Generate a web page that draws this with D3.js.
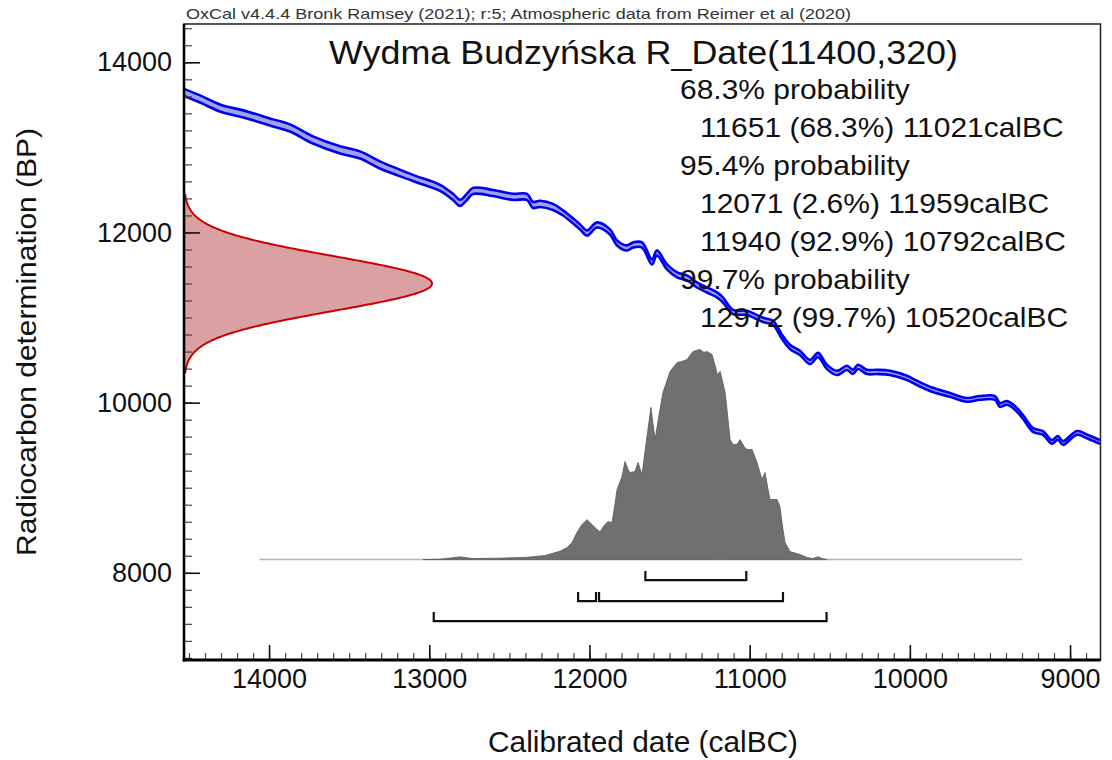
<!DOCTYPE html>
<html>
<head>
<meta charset="utf-8">
<script src="https://cdn.jsdelivr.net/npm/d3@7"></script>
<style>
  html, body { margin: 0; padding: 0; background: #fff; }
  svg { display: block; }
  text { font-family: "Liberation Sans", Arial, sans-serif; }
</style>
</head>
<body>
<svg id="chart" width="1112" height="760"></svg>
<script>
// ---- Data -----------------------------------------------------------
const sampleName = "Wydma Budzyńska";
const dateBP = 11400;
const dateErr = 320;

// IntCal20 calibration curve (calBC, BP, 1-sigma)
const curveCal = [14531,14431,14306,14138,13975,13869,13726,13557,13432,13308,13102,12933,12852,12808,12765,12727,12602,12477,12390,12353,12309,12228,12165,12059,12015,11953,11872,11828,11766,11728,11672,11610,11579,11516,11453,11391,11329,11266,11204,11167,11104,11017,10917,10854,10798,10748,10686,10623,10573,10517,10455,10393,10355,10324,10268,10205,10124,10018,9956,9856,9750,9643,9562,9469,9438,9394,9344,9294,9232,9169,9113,9076,9044,8957,8888,8813];
const curveBP = [13645,13569,13463,13381,13287,13228,13087,12970,12911,12793,12641,12524,12418,12348,12418,12488,12464,12418,12418,12324,12336,12300,12229,12065,11994,12088,12006,11877,11818,11853,11853,11653,11759,11595,11501,11466,11383,11324,11266,11207,11066,11054,10972,10937,10772,10654,10584,10478,10560,10419,10349,10408,10361,10420,10361,10361,10349,10290,10232,10149,10091,10032,10055,10055,9973,9996,9938,9832,9679,9644,9538,9585,9526,9644,9597,9538];
const curveErr = [42,42,42,42,42,42,42,42,42,42,36,36,36,36,36,36,36,36,36,36,36,36,30,30,30,30,30,30,30,30,30,30,30,30,30,30,30,30,30,30,25,25,25,25,25,25,25,25,25,25,25,25,25,25,25,25,25,25,25,25,22,22,22,22,22,22,22,22,22,22,22,22,22,22,22,22];

// Calibrated probability distribution (calBC, relative probability)
const distCal = [13039,12933,12808,12727,12559,12390,12278,12184,12140,12109,12078,12047,12015,11984,11953,11934,11909,11884,11859,11841,11828,11797,11778,11759,11747,11716,11697,11672,11641,11616,11591,11560,11541,11497,11453,11422,11391,11354,11310,11285,11266,11235,11209,11203,11184,11153,11135,11122,11104,11079,11060,11035,11017,10985,10954,10923,10904,10885,10873,10829,10811,10792,10779,10748,10686,10642,10605,10573,10548,10517];
const distProb = [0,0.002,0.013,0.005,0.007,0.011,0.019,0.040,0.057,0.081,0.129,0.167,0.190,0.167,0.143,0.133,0.162,0.181,0.176,0.262,0.333,0.395,0.467,0.429,0.414,0.419,0.462,0.405,0.586,0.724,0.571,0.714,0.795,0.895,0.938,0.943,0.952,0.990,1.0,0.986,0.990,0.976,0.905,0.881,0.895,0.795,0.667,0.571,0.548,0.548,0.571,0.538,0.524,0.524,0.462,0.381,0.414,0.333,0.286,0.286,0.252,0.143,0.081,0.038,0.024,0.010,0.005,0.014,0.005,0];
const distRange = [14060, 9300];

// Highest posterior density ranges
const hpdLevels = ["68.3%", "95.4%", "99.7%"];
const hpdRanges = [
  [[11651, 11021, "68.3%"]],
  [[12071, 11959, "2.6%"], [11940, 10792, "92.9%"]],
  [[12972, 10520, "99.7%"]]
];

// Axis ticks
const yTickLabels = [8000, 10000, 12000, 14000];
const xTickLabels = [14000, 13000, 12000, 11000, 10000, 9000];

const headerText = "OxCal v4.4.4 Bronk Ramsey (2021); r:5; Atmospheric data from Reimer et al (2020)";

// ---- Layout ---------------------------------------------------------
const svg = d3.select("#chart");
const plot = { left: 184, right: 1100.5, top: 24, bottom: 660 };

const x = d3.scaleLinear().domain([14531, 8810]).range([plot.left, plot.right]);
const y = d3.scaleLinear().domain([6975, 14450]).range([plot.bottom, plot.top]);

// Distribution placement on the BP axis
const distBase = 8155, distHeight = 2470;
const py = p => y(distBase + p * distHeight);
// Width of the radiocarbon Gaussian at its peak
const gx = d3.scaleLinear().domain([0, 1]).range([plot.left, 432]);

svg.append("defs").append("clipPath").attr("id", "clip")
  .append("rect").attr("x", plot.left).attr("y", plot.top)
  .attr("width", plot.right - plot.left).attr("height", plot.bottom - plot.top);

// Frame
svg.append("rect")
  .attr("x", plot.left).attr("y", plot.top)
  .attr("width", plot.right - plot.left).attr("height", plot.bottom - plot.top)
  .attr("fill", "none").attr("stroke", "#2a2a2a").attr("stroke-width", 1.6);

// Header
svg.append("text")
  .attr("x", 186).attr("y", 19)
  .attr("font-size", 15).attr("fill", "#333")
  .attr("textLength", 665).attr("lengthAdjust", "spacingAndGlyphs")
  .text(headerText);

const g = svg.append("g").attr("clip-path", "url(#clip)");

// Calibration curve band
const curve = curveCal.map((c, i) => ({ cal: c, bp: curveBP[i], err: curveErr[i] }));
const cv = d3.curveCatmullRom.alpha(0.5);
g.append("path").datum(curve)
  .attr("d", d3.area().curve(cv).x(d => x(d.cal)).y0(d => y(d.bp - d.err)).y1(d => y(d.bp + d.err)))
  .attr("fill", "#a2a2e8");
["+", "-"].forEach(s => {
  g.append("path").datum(curve)
    .attr("d", d3.line().curve(cv).x(d => x(d.cal)).y(d => y(s === "+" ? d.bp + d.err : d.bp - d.err)))
    .attr("fill", "none").attr("stroke", "#0000f0").attr("stroke-width", 2.6)
    .attr("stroke-linejoin", "round");
});

// Radiocarbon measurement (normal distribution on the BP axis)
const nSig = 3.3;
const gauss = d3.range(dateBP - nSig * dateErr, dateBP + nSig * dateErr + 1, 8)
  .map(bp => ({ bp, p: Math.exp(-0.5 * Math.pow((bp - dateBP) / dateErr, 2)) }));
g.append("path").datum(gauss)
  .attr("d", d3.area().x0(gx(0)).x1(d => gx(d.p)).y(d => y(d.bp)))
  .attr("fill", "#d9a1a1");
g.append("path").datum(gauss)
  .attr("d", d3.line().x(d => gx(d.p)).y(d => y(d.bp)))
  .attr("fill", "none").attr("stroke", "#cc0000").attr("stroke-width", 2);

// Calibrated distribution
g.append("line")
  .attr("x1", x(distRange[0])).attr("x2", x(distRange[1]))
  .attr("y1", py(0)).attr("y2", py(0))
  .attr("stroke", "#b4b4b4").attr("stroke-width", 1.5);
const dist = distCal.map((c, i) => ({ cal: c, p: distProb[i] }));
g.append("path").datum(dist)
  .attr("d", d3.area().x(d => x(d.cal)).y0(py(0)).y1(d => py(d.p)))
  .attr("fill", "#707070").attr("stroke", "#5a5a5a").attr("stroke-width", 0.8);

// HPD range brackets
const bracketOffsets = [20.5, 41.5, 61.5];
hpdRanges.forEach((ranges, li) => {
  const yy = py(0) + bracketOffsets[li];
  ranges.forEach(r => {
    const x1 = x(r[0]), x2 = x(r[1]);
    g.append("path")
      .attr("d", `M${x1},${yy - 9}V${yy}H${x2}V${yy - 9}`)
      .attr("fill", "none").attr("stroke", "#111").attr("stroke-width", 2.2);
  });
});

// Axes
const yMinor = d3.axisLeft(y).tickValues(d3.range(7000, 14401, 200)).tickSize(-8).tickFormat("");
const yMajor = d3.axisLeft(y).tickValues(yTickLabels).tickSize(-16).tickPadding(12).tickFormat(d3.format("d"));
const xMinor = d3.axisBottom(x).tickValues(d3.range(8900, 14501, 100)).tickSize(-7).tickFormat("");
const xMajor = d3.axisBottom(x).tickValues(xTickLabels).tickSize(-15).tickPadding(9).tickFormat(d3.format("d"));

function styleAxis(sel) {
  sel.select(".domain").remove();
  sel.selectAll("line").attr("stroke", "#111").attr("stroke-width", 1.6);
  sel.selectAll("text").attr("font-size", 27).attr("fill", "#111")
    .attr("font-family", "'Liberation Sans', Arial, sans-serif");
}
svg.append("g").attr("transform", `translate(${plot.left},0)`).call(yMinor).call(styleAxis)
  .selectAll("line").attr("stroke", "#444").attr("stroke-width", 1.2);
svg.append("g").attr("transform", `translate(${plot.left},0)`).call(yMajor).call(styleAxis);
svg.append("g").attr("transform", `translate(0,${plot.bottom})`).call(xMinor).call(styleAxis)
  .selectAll("line").attr("stroke", "#444").attr("stroke-width", 1.2);
svg.append("g").attr("transform", `translate(0,${plot.bottom})`).call(xMajor).call(styleAxis);

// Axis lines
svg.append("line").attr("x1", plot.left).attr("x2", plot.left)
  .attr("y1", plot.top).attr("y2", plot.bottom + 1.5)
  .attr("stroke", "#000").attr("stroke-width", 2.6);
svg.append("line").attr("x1", plot.left - 1.3).attr("x2", plot.right)
  .attr("y1", plot.bottom).attr("y2", plot.bottom)
  .attr("stroke", "#000").attr("stroke-width", 2.8);

// Axis titles
svg.append("text")
  .attr("transform", "translate(36,342) rotate(-90)")
  .attr("text-anchor", "middle").attr("font-size", 28).attr("fill", "#111")
  .attr("textLength", 428).attr("lengthAdjust", "spacingAndGlyphs")
  .text("Radiocarbon determination (BP)");
svg.append("text")
  .attr("x", 643).attr("y", 752)
  .attr("text-anchor", "middle").attr("font-size", 29).attr("fill", "#111")
  .attr("textLength", 310).attr("lengthAdjust", "spacingAndGlyphs")
  .text("Calibrated date (calBC)");

// Title
svg.append("text")
  .attr("x", 329).attr("y", 64)
  .attr("font-size", 33).attr("fill", "#111")
  .attr("textLength", 629).attr("lengthAdjust", "spacingAndGlyphs")
  .text(`${sampleName} R_Date(${dateBP},${dateErr})`);

// Probability ranges text
const lines = [];
hpdLevels.forEach((lvl, i) => {
  lines.push({ t: `${lvl} probability`, indent: 0 });
  hpdRanges[i].forEach(r => lines.push({ t: `${r[0]} (${r[2]}) ${r[1]}calBC`, indent: 20 }));
});
lines.forEach((l, i) => {
  const txt = svg.append("text")
    .attr("x", 680 + l.indent).attr("y", 99 + i * 38)
    .attr("font-size", 28).attr("fill", "#111")
    .text(l.t);
  const w = txt.node().getComputedTextLength();
  txt.attr("textLength", w * 1.07).attr("lengthAdjust", "spacingAndGlyphs");
});
</script>
</body>
</html>
